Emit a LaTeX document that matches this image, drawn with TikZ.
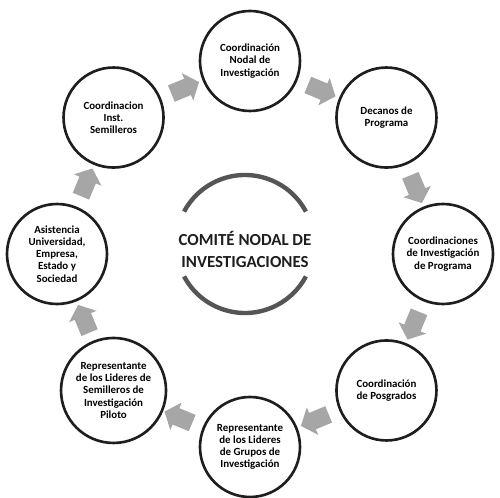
\documentclass[tikz,border=0pt]{standalone}
\usepackage{fontspec}
\setmainfont{Carlito}
\usetikzlibrary{shapes.arrows, positioning, calc}
\definecolor{flowgray}{HTML}{A6A6A6}
\definecolor{arcgray}{HTML}{555555}
\definecolor{inkline}{HTML}{1E1E1E}

\begin{document}
\begin{tikzpicture}[
  unit/.style={circle, draw=inkline, line width=1.5pt, fill=white, minimum size=2cm, inner sep=0pt, align=center, font=\bfseries\fontsize{6.2}{6.9}\selectfont},
  flow/.style={single arrow, fill=flowgray, draw=none, minimum height=0.6cm, inner xsep=0pt, inner ysep=0.17cm, single arrow head extend=0.12cm, single arrow tip angle=100},
  title/.style={align=center, font=\bfseries\fontsize{9.6}{12.5}\selectfont},
  ring/.style={arcgray, line width=2.5pt}
]
\useasboundingbox (-5,-4.86) rectangle (5,5.08);

% Committee at the centre
\node[title, text=inkline] (comite) at (-0.1,0.1) {COMITÉ NODAL DE\\INVESTIGACIONES};
\coordinate (hub) at (-0.1,0.2);
\draw[ring] (hub) ++(28:1.38) arc[start angle=28, end angle=152, radius=1.38];
\draw[ring] (hub) ++(208:1.38) arc[start angle=208, end angle=332, radius=1.38];

% Members around the committee
\node[unit] (nodal) at (90:3.86) {Coordinación\\Nodal de\\Investigación};
\node[unit] (decanos) at (45:3.86) {Decanos de\\Programa};
\node[unit] (coordprog) at (0:3.86) {Coordinaciones\\de Investigación\\de Programa};
\node[unit] (posgrados) at (-45:3.86) {Coordinación\\de Posgrados};
\node[unit] (grupos) at (-90:3.86) {Representante\\de los Lideres\\de Grupos de\\Investigación};
\node[unit, minimum size=2.1cm] (piloto) at (-135:3.86) {Representante\\de los Lideres de\\Semilleros de\\Investigación\\Piloto};
\node[unit] (asistencia) at (180:3.86) {Asistencia\\Universidad,\\Empresa,\\Estado y\\Sociedad};
\node[unit] (semilleros) at (135:3.86) {Coordinacion\\Inst.\\Semilleros};

% Block arrows between members
\node[flow, rotate=22.5] (toNodal) at ($(semilleros)!0.5!(nodal)$) {};
\node[flow, rotate=-22.5] (toDecanos) at ($(nodal)!0.5!(decanos)$) {};
\node[flow, rotate=-67.5] (toCoordprog) at ($(decanos)!0.5!(coordprog)$) {};
\node[flow, rotate=-112.5] (toPosgrados) at ($(coordprog)!0.5!(posgrados)$) {};
\node[flow, rotate=-157.5] (toGrupos) at ($(posgrados)!0.5!(grupos)$) {};
\node[flow, rotate=157.5] (toPiloto) at ($(grupos)!0.5!(piloto)$) {};
\node[flow, rotate=112.5] (toAsistencia) at ($(piloto)!0.5!(asistencia)$) {};
\node[flow, rotate=67.5] (toSemilleros) at ($(asistencia)!0.5!(semilleros)$) {};

\end{tikzpicture}
\end{document}
